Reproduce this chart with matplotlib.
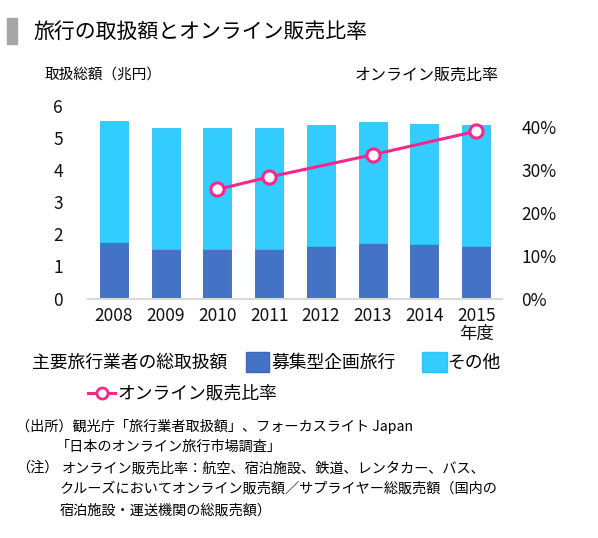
import matplotlib.pyplot as plt
from matplotlib.patches import Rectangle
from matplotlib.lines import Line2D

plt.rcParams['font.family'] = ['Noto Sans CJK JP', 'DejaVu Sans']

years = ['2008', '2009', '2010', '2011', '2012', '2013', '2014', '2015\n年度']
package = [1.77, 1.54, 1.54, 1.54, 1.65, 1.73, 1.70, 1.65]
total = [5.52, 5.30, 5.30, 5.32, 5.42, 5.51, 5.45, 5.42]
other = [t - p for t, p in zip(total, package)]
online_idx = [2, 3, 5, 7]
online_ratio = [25.5, 28.4, 33.6, 39.1]

W, H = 598, 538
dark_blue = '#4472C4'
light_blue = '#33CCFF'
pink = '#F5288C'

fig = plt.figure(figsize=(W / 100, H / 100), dpi=100)

def px(x, y):
    return x / W, 1 - y / H

# axes in pixel box: x 88..502, y 106..298.5
ax = fig.add_axes([88 / W, 1 - 298.5 / H, (502 - 88) / W, (298.5 - 106) / H])
x = list(range(len(years)))
ax.bar(x, package, width=0.54, color=dark_blue, edgecolor='#3F68BA', linewidth=0.6)
ax.bar(x, other, bottom=package, width=0.54, color=light_blue, edgecolor='#2EC3F5', linewidth=0.6)
ax.set_xlim(-0.5, 7.5)
ax.set_ylim(0, 6)
ax.set_yticks(range(7))
ax.set_xticks(x)
ax.set_xticklabels(years, fontsize=12.5, linespacing=1.0)
ax.tick_params(axis='both', length=0, labelsize=12.5, colors='#111111')
ax.tick_params(axis='y', pad=18)
ax.tick_params(axis='x', pad=6)
for s in ['top', 'right', 'left']:
    ax.spines[s].set_visible(False)
ax.spines['bottom'].set_color('#D9D9D9')
ax.spines['bottom'].set_linewidth(1.5)

ax2 = ax.twinx()
ax2.set_ylim(0, 45)
ax2.set_yticks([0, 10, 20, 30, 40])
ax2.set_yticklabels(['0%', '10%', '20%', '30%', '40%'])
ax2.tick_params(axis='y', length=0, labelsize=12.5, colors='#111111', pad=14)
for s in ax2.spines.values():
    s.set_visible(False)
ax2.plot(online_idx, online_ratio, color=pink, linewidth=2.2, marker='o',
         markersize=9.5, markerfacecolor='white', markeredgecolor=pink,
         markeredgewidth=2.2, zorder=5)

# title
fig.patches.append(Rectangle(px(7, 44), 10 / W, 26 / H, transform=fig.transFigure,
                             color='#A6A6A6', zorder=3))
fig.text(*px(33, 32), '旅行の取扱額とオンライン販売比率', fontsize=15, va='center', ha='left')

fig.text(*px(45, 75), '取扱総額（兆円）', fontsize=10.5, va='center', ha='left')
fig.text(*px(355, 75), 'オンライン販売比率', fontsize=11.5, va='center', ha='left')

# legend
fig.text(*px(32, 363), '主要旅行業者の総取扱額', fontsize=12.8, va='center', ha='left')
fig.patches.append(Rectangle(px(246, 372), 23 / W, 20 / H, transform=fig.transFigure,
                             facecolor=dark_blue, edgecolor='#3F68BA'))
fig.text(*px(271, 363), '募集型企画旅行', fontsize=12.8, va='center', ha='left')
fig.patches.append(Rectangle(px(422, 372), 25 / W, 20 / H, transform=fig.transFigure,
                             facecolor=light_blue, edgecolor='#2EC3F5'))
fig.text(*px(447, 363), 'その他', fontsize=12.8, va='center', ha='left')
fig.lines.append(Line2D([88 / W, 115 / W], [1 - 393 / H] * 2, transform=fig.transFigure,
                        color=pink, linewidth=2.2))
fig.lines.append(Line2D([101.5 / W], [1 - 393 / H], transform=fig.transFigure,
                        linestyle='none', marker='o', markersize=8,
                        markerfacecolor='white', markeredgecolor=pink, markeredgewidth=2))
fig.text(*px(117, 393), 'オンライン販売比率', fontsize=12.8, va='center', ha='left')

# notes
fs = 10.2
fig.text(*px(16, 426), '（出所）観光庁「旅行業者取扱額」、フォーカスライト Japan', fontsize=fs, va='center', ha='left')
fig.text(*px(56, 447), '「日本のオンライン旅行市場調査」', fontsize=fs, va='center', ha='left')
fig.text(*px(16, 468), '（注）', fontsize=fs, va='center', ha='left')
fig.text(*px(62, 468), 'オンライン販売比率：航空、宿泊施設、鉄道、レンタカー、バス、', fontsize=fs, va='center', ha='left')
fig.text(*px(60, 489), 'クルーズにおいてオンライン販売額／サプライヤー総販売額（国内の', fontsize=fs, va='center', ha='left')
fig.text(*px(60, 510), '宿泊施設・運送機関の総販売額）', fontsize=fs, va='center', ha='left')

fig.savefig('out.png', dpi=100)
